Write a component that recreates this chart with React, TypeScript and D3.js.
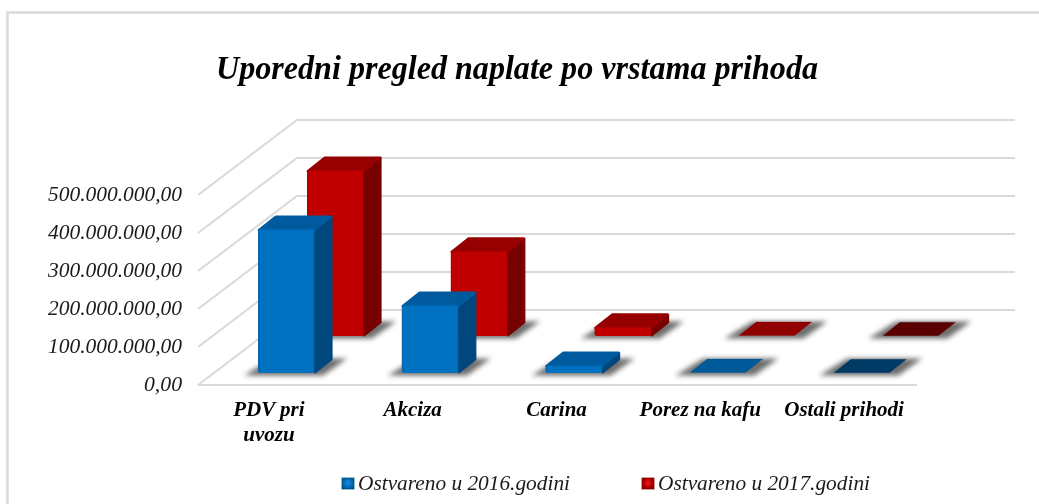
import React from 'react';
import * as d3 from 'd3';

const categories = ['PDV pri uvozu', 'Akciza', 'Carina', 'Porez na kafu', 'Ostali prihodi'];
const categoryLines = [['PDV pri', 'uvozu'], ['Akciza'], ['Carina'], ['Porez na kafu'], ['Ostali prihodi']];
const values2016 = [376000000, 176000000, 18000000, 1000000, 500000];
const values2017 = [434000000, 221000000, 21000000, 1000000, 500000];
const yTicks = [0, 100000000, 200000000, 300000000, 400000000, 500000000];
const yTickLabels = ['0,00', '100.000.000,00', '200.000.000,00', '300.000.000,00', '400.000.000,00', '500.000.000,00'];
const series = [
  { id: 'b', name: 'Ostvareno u 2016.godini', values: values2016, front: '#0070c0', edge: '#0a62a8', top: ['#005a9e', '#005a9e', '#005a9e', '#005a9a', '#003a66'], side: '#00467d', dark: '#005086', light: '#1c8ad8' },
  { id: 'r', name: 'Ostvareno u 2017.godini', values: values2017, front: '#c00000', edge: '#a80808', top: ['#960000', '#960000', '#960000', '#900000', '#5a0000'], side: '#780000', dark: '#8a0000', light: '#e02020' },
];

const FONT = '"Liberation Serif", serif';
const GRID = '#d9d9d9';

const x = d3.scaleBand<string>().domain(categories).range([198, 917]);
const h = d3.scaleLinear().domain([0, 500000000]).range([0, 190]);
const FLOOR = 385;
const BACK_DX = 99;
const BACK_DY = 75;
const BAR_W = 57;
const DX = 17;
const DY = 13.5;

function Bar({ s, si, i }: { s: typeof series[number]; si: number; i: number }) {
  const cat = categories[i];
  const x0 = (x(cat) as number) + 60 + si * 49;
  const y0 = 373 - si * 37;
  const bh = h(s.values[i]);
  const yt = y0 - bh;
  const x1 = x0 + BAR_W;
  const flat = bh < 2;
  const topPts = `${x0 + 0.8},${yt} ${x1 - 0.8},${yt} ${x1 + DX - 0.8},${yt - DY} ${x0 + DX + 0.8},${yt - DY}`;
  const shadow = `${x0 - 14},${y0 + 2.5} ${x1 + 8},${y0 + 2.5} ${x1 + DX + 15},${y0 - DY - 1} ${x0 + DX - 3},${y0 - DY - 1}`;
  return (
    <g>
      <polygon points={shadow} fill="#555" opacity={0.85} filter="url(#blur)" />
      {!flat && <rect x={x0} y={yt - 1} width={BAR_W} height={bh + 1} fill={`url(#front-${s.id})`} rx={2.5} />}
      {!flat && <polygon points={`${x1},${yt} ${x1 + DX},${yt - DY} ${x1 + DX},${y0 - DY} ${x1},${y0}`} fill={s.side} stroke={s.side} strokeWidth={1.2} strokeLinejoin="round" />}
      <polygon points={topPts} fill={s.top[i]} stroke={s.top[i]} strokeWidth={flat ? 0.3 : 2.4} strokeLinejoin="round" />
      {!flat && <rect x={x0 + 0.5} y={yt - 0.5} width={BAR_W - 1} height={Math.min(bh, 3)} fill={s.front} rx={1.5} />}
    </g>
  );
}

export default function App() {
  return (
    <svg width={1039} height={504} style={{ position: 'absolute', left: 0, top: 0, background: '#fff' }} fontFamily={FONT}>
      <defs>
        <filter id="blur" x="-30%" y="-80%" width="160%" height="260%">
          <feGaussianBlur stdDeviation="2.8" />
        </filter>
        <filter id="soft" x="-5%" y="-5%" width="110%" height="110%">
          <feGaussianBlur stdDeviation="0.4" />
        </filter>
        <filter id="softText" x="-5%" y="-20%" width="110%" height="140%">
          <feGaussianBlur stdDeviation="0.3" />
        </filter>
        {series.map((s) => (
          <linearGradient key={s.id} id={`front-${s.id}`} x1="0" x2="1" y1="0" y2="0">
            <stop offset="0" stopColor={s.edge} />
            <stop offset="0.04" stopColor={s.front} />
            <stop offset="0.96" stopColor={s.front} />
            <stop offset="1" stopColor={s.edge} />
          </linearGradient>
        ))}
        {series.map((s) => (
          <radialGradient key={s.id} id={`legend-${s.id}`} cx="0.5" cy="0.45" r="0.6">
            <stop offset="0" stopColor={s.light} />
            <stop offset="0.55" stopColor={s.front} />
            <stop offset="1" stopColor={s.dark} />
          </radialGradient>
        ))}
      </defs>
      <path d="M1039,12.5 H7.5 V504" fill="none" stroke="#d9d9d9" strokeWidth={2.5} filter="url(#soft)" />
      <text x={517} y={79} textAnchor="middle" fontSize={33} fontWeight="bold" fontStyle="italic" fill="#000" textLength={602} lengthAdjust="spacingAndGlyphs" filter="url(#softText)">Uporedni pregled naplate po vrstama prihoda</text>

      <g filter="url(#soft)">
        {yTicks.map((t) => {
          const yf = FLOOR - h(t);
          return (
            <path key={t} d={`M198,${yf} L${198 + BACK_DX},${yf - BACK_DY} H1015`} fill="none" stroke={GRID} strokeWidth={2} />
          );
        })}
        <path d={`M198,${FLOOR} H917`} fill="none" stroke={GRID} strokeWidth={2} />
        {[1, 0].map((si) => categories.map((_, i) => <Bar key={`${si}-${i}`} s={series[si]} si={si} i={i} />))}
      </g>

      <g filter="url(#softText)">
        {yTicks.map((t, i) => (
          <text key={t} x={182} y={FLOOR - h(t) + 6} textAnchor="end" fontSize={20} fontStyle="italic" fill="#1a1a1a" textLength={i === 0 ? 38 : 134} lengthAdjust="spacingAndGlyphs">{yTickLabels[i]}</text>
        ))}

        {categories.map((c, i) => (
          <text key={c} textAnchor="middle" fontSize={21} fontWeight="bold" fontStyle="italic" fill="#000">
            {categoryLines[i].map((l, j) => (
              <tspan key={l} x={(x(c) as number) + x.bandwidth() / 2 - 1} y={416 + j * 25}>{l}</tspan>
            ))}
          </text>
        ))}

        {series.map((s, i) => {
          const lx = 342 + i * 300;
          return (
            <g key={s.name}>
              <rect x={lx} y={478} width={12} height={11} fill={`url(#legend-${s.id})`} stroke={s.dark} strokeWidth={0.8} />
              <text x={lx + 16} y={490} fontSize={20} fontStyle="italic" fill="#1a1a1a" textLength={212} lengthAdjust="spacingAndGlyphs">{s.name}</text>
            </g>
          );
        })}
      </g>
    </svg>
  );
}
